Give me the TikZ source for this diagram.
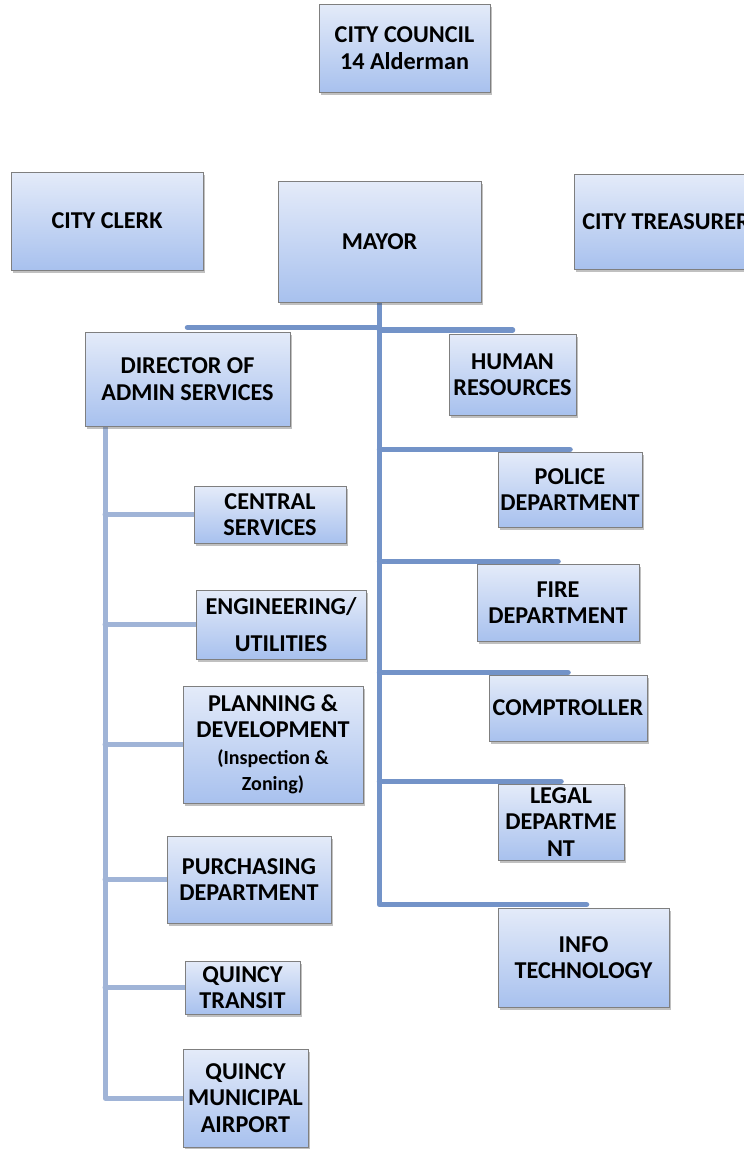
\documentclass[tikz,border=0pt]{standalone}
\usepackage{fontspec}
\setmainfont{Carlito}
\usetikzlibrary{shadows}
\pgfdeclarelayer{bottom}
\pgfdeclarelayer{background}
\pgfsetlayers{bottom,background,main}
\definecolor{boxtop}{HTML}{E4EBF9}
\definecolor{boxbot}{HTML}{A8C1EE}
\definecolor{boxedge}{HTML}{7F7F7F}
\definecolor{rcol}{HTML}{7393C8}
\definecolor{lcol}{HTML}{A0B4D7}
\tikzset{
  orgbox/.style={draw=boxedge, line width=1pt, top color=boxtop, bottom color=boxbot,
    align=center, inner sep=0pt, text=black,
    font=\fontsize{24.2}{26.5}\selectfont\bfseries,
    drop shadow={shadow xshift=1.5pt, shadow yshift=-3pt, opacity=0.35, fill=black!70}},
  rline/.style={draw=rcol, line width=5.5pt, line cap=round, line join=round},
  lline/.style={draw=lcol, line width=5pt, line cap=round, line join=round},
}
\begin{document}
\begin{tikzpicture}[x=1pt,y=-1pt]
\path[use as bounding box] (0,0) rectangle (744,1149);
\begin{pgfonlayer}{bottom}
\fill[white] (0,0) rectangle (744,1149);
\end{pgfonlayer}
% top row
\node[orgbox, minimum width=171pt, minimum height=88pt] (council) at (404.5,48) {CITY COUNCIL\\14 Alderman};
\node[orgbox, minimum width=192pt, minimum height=98pt] (clerk) at (107,221) {CITY CLERK};
\node[orgbox, minimum width=203pt, minimum height=121pt] (mayor) at (379.5,241.5) {MAYOR};
\node[orgbox, minimum width=184pt, minimum height=95pt] (treas) at (666,221.5) {CITY TREASURER};
% second row
\node[orgbox, minimum width=205pt, minimum height=94pt] (director) at (187.5,379) {DIRECTOR OF\\ADMIN SERVICES};
\node[orgbox, minimum width=127pt, minimum height=81pt] (hr) at (512.5,374.5) {HUMAN\\RESOURCES};
% left column
\node[orgbox, minimum width=152pt, minimum height=57pt] (central) at (270,514.5) {CENTRAL\\SERVICES};
\node[orgbox, minimum width=170pt, minimum height=69pt] (eng) at (281,624.5) {ENGINEERING/\\[10pt]UTILITIES};
\node[orgbox, minimum width=180pt, minimum height=117pt] (plan) at (273,744.5) {PLANNING \&\\DEVELOPMENT\\{\fontsize{20}{25}\selectfont(Inspection \&}\\{\fontsize{20}{25}\selectfont Zoning)}};
\node[orgbox, minimum width=164pt, minimum height=87pt] (purch) at (249,879.5) {PURCHASING\\DEPARTMENT};
\node[orgbox, minimum width=115pt, minimum height=53pt] (transit) at (242.5,987.5) {QUINCY\\TRANSIT};
\node[orgbox, minimum width=125pt, minimum height=98pt] (airport) at (245.5,1098) {QUINCY\\MUNICIPAL\\AIRPORT};
% right column
\node[orgbox, minimum width=144pt, minimum height=75pt] (police) at (570,489.5) {POLICE\\DEPARTMENT};
\node[orgbox, minimum width=162pt, minimum height=77pt] (fire) at (558,602.5) {FIRE\\DEPARTMENT};
\node[orgbox, minimum width=158pt, minimum height=66pt] (comp) at (568,708) {COMPTROLLER};
\node[orgbox, minimum width=126pt, minimum height=76pt] (legal) at (561,822) {LEGAL\\DEPARTME\\NT};
\node[orgbox, minimum width=171pt, minimum height=99pt] (info) at (583.5,957.5) {INFO\\TECHNOLOGY};
% connector anchors
\coordinate (tD) at ([yshift=4pt]director.north);
\coordinate (tH) at ([yshift=3.5pt]hr.north);
\coordinate (tP) at ([yshift=2pt]police.north);
\coordinate (tF) at ([yshift=2pt]fire.north);
\coordinate (tC) at ([yshift=2pt]comp.north);
\coordinate (tL) at ([yshift=2pt]legal.north);
\coordinate (tI) at ([yshift=3pt,xshift=3pt]info.north);
\coordinate (lt) at ([xshift=20.5pt]director.south west);
\begin{pgfonlayer}{background}
\draw[rline] (mayor.south) |- (tI);
\draw[rline] (tD) -- (tD -| mayor.south);
\draw[rline] (tH) -- (tH -| mayor.south);
\draw[rline] (tP) -- (tP -| mayor.south);
\draw[rline] (tF) -- (tF -| mayor.south);
\draw[rline] (tC) -- (tC -| mayor.south);
\draw[rline] (tL) -- (tL -| mayor.south);
\draw[lline] (lt) |- (airport.west);
\draw[lline] (central.west) -- (central.west -| lt);
\draw[lline] (eng.west) -- (eng.west -| lt);
\draw[lline] (plan.west) -- (plan.west -| lt);
\draw[lline] (purch.west) -- (purch.west -| lt);
\draw[lline] (transit.west) -- (transit.west -| lt);
\end{pgfonlayer}
\end{tikzpicture}
\end{document}
